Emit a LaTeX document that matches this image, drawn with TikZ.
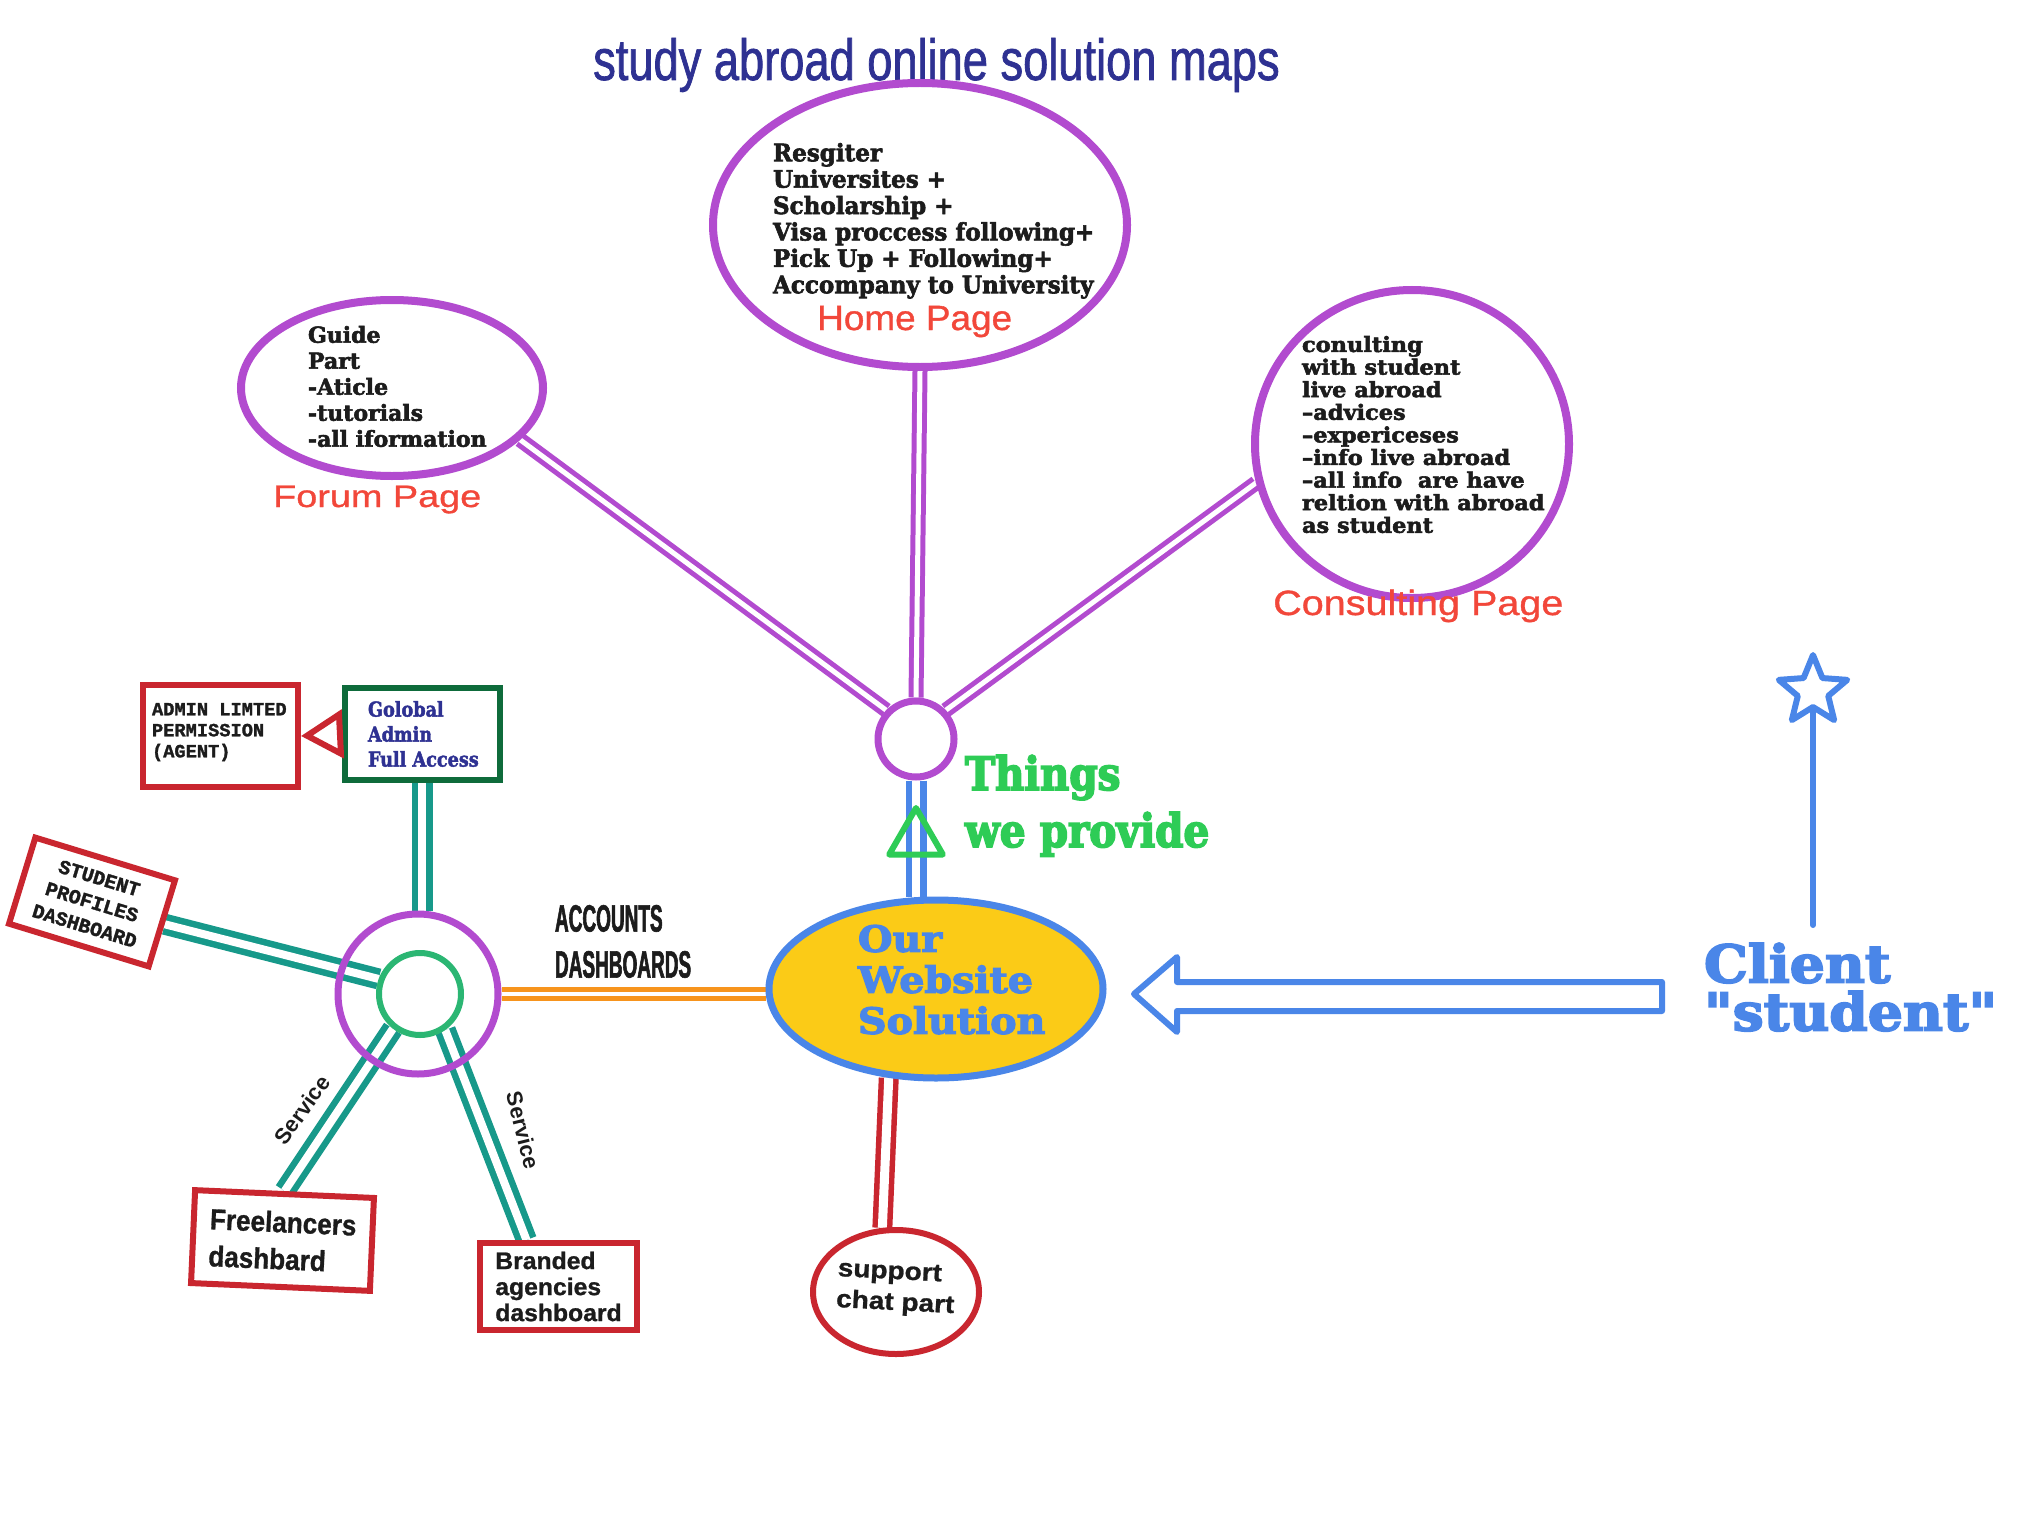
\documentclass[tikz,border=0pt]{standalone}
\usepackage{fontspec}
\usetikzlibrary{shapes.geometric,arrows.meta,calc}
\setmainfont{Liberation Sans}
\newfontfamily\hand{Liberation Sans}[FakeStretch=0.78]
\newfontfamily\slab{DejaVu Serif}
\newfontfamily\mono{Liberation Mono}
\newfontfamily\arial{Liberation Sans}
\definecolor{cpurple}{HTML}{B24BCF}
\definecolor{cred}{HTML}{C9262F}
\definecolor{clabel}{HTML}{F2473A}
\definecolor{cnavy}{HTML}{2E3192}
\definecolor{cdkgreen}{HTML}{0E6B3B}
\definecolor{cteal}{HTML}{17998A}
\definecolor{cgreenc}{HTML}{2BB673}
\definecolor{cgreen}{HTML}{2ECC56}
\definecolor{corange}{HTML}{F7941D}
\definecolor{cblue}{HTML}{4A86E8}
\definecolor{cyellow}{HTML}{FBCB17}
\definecolor{ctext}{HTML}{1C1C1C}
\pgfdeclarelayer{bg}
\pgfsetlayers{bg,main}
\begin{document}
\begin{tikzpicture}[x=1bp,y=-1bp,
  txt/.style={inner sep=0pt, outer sep=0pt, anchor=north west, align=left},
  ppipe/.style={draw=cpurple, line width=5bp, double=white, double distance=5bp},
  bpipe/.style={draw=cblue, line width=6.5bp, double=white, double distance=8bp},
  tpipe/.style={draw=cteal, line width=6.5bp, double=white, double distance=8bp},
  opipe/.style={draw=corange, line width=5bp, double=white, double distance=4bp},
  rpipe/.style={draw=cred, line width=5.5bp, double=white, double distance=9bp},
  redbox/.style={draw=cred, line width=6bp, fill=white, inner sep=0pt, align=left, text=ctext},
]
\begin{pgfonlayer}{bg}
\fill[white] (0,0) rectangle (2035,1536);
\end{pgfonlayer}
\path[use as bounding box] (0,0) rectangle (2035,1536);

% title
\node[inner sep=0pt, anchor=base west, text=cnavy, font={\hand\addfontfeatures{FakeBold=1.2}\fontsize{58bp}{60bp}\selectfont}] (title) at (593,80) {study abroad online solution maps};

% top ellipses
\node[ellipse, draw=cpurple, line width=8bp, fill=white, minimum width=414bp, minimum height=284bp, inner sep=0pt] (home) at (920,225) {};
\node[ellipse, draw=cpurple, line width=8bp, fill=white, minimum width=302bp, minimum height=176bp, inner sep=0pt] (forum) at (392,388) {};
\node[ellipse, draw=cpurple, line width=8bp, fill=white, minimum width=314bp, minimum height=308bp, inner sep=0pt] (cons) at (1412,444) {};

\node[txt, text=ctext, font={\slab\bfseries\addfontfeatures{FakeStretch=0.96,FakeBold=2.5}\fontsize{24bp}{26.4bp}\selectfont}] (hometxt) at (773,143)
  {Resgiter\\Universites +\\Scholarship +\\Visa proccess following+\\Pick Up + Following+\\Accompany to University};
\node[inner sep=0pt, anchor=base west, text=clabel, font={\arial\addfontfeatures{FakeStretch=1.055,FakeBold=1}\fontsize{35bp}{40bp}\selectfont}] (homelbl) at (817,330) {Home Page};

\node[txt, text=ctext, font={\slab\bfseries\addfontfeatures{FakeBold=2.5}\fontsize{22bp}{26bp}\selectfont}] (forumtxt) at (308,326)
  {Guide\\Part\\-Aticle\\-tutorials\\-all iformation};
\node[inner sep=0pt, anchor=base west, text=clabel, font={\arial\addfontfeatures{FakeStretch=1.22,FakeBold=1}\fontsize{31bp}{36bp}\selectfont}] (forumlbl) at (273,507) {Forum Page};

\node[txt, text=ctext, font={\slab\bfseries\addfontfeatures{FakeStretch=1.07,FakeBold=2.5}\fontsize{21bp}{22.6bp}\selectfont}] (constxt) at (1302,336)
  {conulting\\with student\\live abroad\\–advices\\–expericeses\\–info live abroad\\–all info\ \ are have\\reltion with abroad\\as student};
\node[inner sep=0pt, anchor=base west, text=clabel, font={\arial\addfontfeatures{FakeStretch=1.13,FakeBold=1}\fontsize{35bp}{40bp}\selectfont}] (conslbl) at (1273,615) {Consulting Page};

% hub and website
\node[circle, draw=cpurple, line width=7bp, fill=white, minimum size=76bp, inner sep=0pt] (hub) at (916,739) {};
\node[ellipse, draw=cblue, line width=7bp, fill=cyellow, minimum width=334bp, minimum height=178bp, inner sep=0pt] (web) at (936,989) {};
\node[txt, text=cblue, font={\slab\bfseries\addfontfeatures{FakeStretch=1.1,FakeBold=3.5}\fontsize{36bp}{41bp}\selectfont}] (webtxt) at (858,925)
  {Our\\Website\\Solution};

\node[regular polygon, regular polygon sides=3, draw=cgreen, line width=6bp, line join=round, minimum size=62bp, inner sep=0pt] (tri) at (916,839) {};
\node[txt, text=cgreen, font={\slab\bfseries\addfontfeatures{FakeStretch=0.88,FakeBold=3.5}\fontsize{46bp}{57bp}\selectfont}] (things) at (965,755)
  {Things\\we provide};

% client
\node[txt, text=cblue, font={\slab\bfseries\addfontfeatures{FakeStretch=1.06,FakeBold=3.5}\fontsize{52bp}{48bp}\selectfont}] (client) at (1704,943)
  {Client\\"student"};
\node[star, star points=5, star point ratio=2.25, draw=cblue, line width=6bp, line join=round, minimum size=72bp, inner sep=0pt] (star) at (1813,691) {};
\coordinate (cltop) at (1813,925);
\draw[cblue, line width=6bp, line cap=round] (cltop) -- (star.south);

\coordinate (atip) at (1134,994);
\coordinate (aend) at (1662,996);
\draw[cblue, line width=6bp, line join=round]
  (atip) -- (1177,957) -- (1177,982) -- (aend |- 0,982) -- (aend |- 0,1011) -- (1177,1011) -- (1177,1032) -- cycle;

% left hub
\node[circle, draw=cpurple, line width=7bp, minimum size=160bp, inner sep=0pt] (lhub) at (418,994) {};
\node[circle, draw=cgreenc, line width=6bp, fill=white, minimum size=82bp, inner sep=0pt] (inner) at (420,994) {};

\node[txt, text=ctext, font={\arial\bfseries\addfontfeatures{FakeStretch=0.5,FakeBold=1.5}\fontsize{38bp}{46bp}\selectfont}] (acc) at (555,905)
  {ACCOUNTS\\DASHBOARDS};

\node[draw=cdkgreen, line width=6bp, fill=white, minimum width=155bp, minimum height=92bp, inner sep=0pt] (gadmin) at (422,734) {};
\node[txt, text=cnavy, font={\slab\bfseries\addfontfeatures{FakeStretch=0.86,FakeBold=2}\fontsize{20.5bp}{25bp}\selectfont}] (gadmintxt) at (368,701)
  {Golobal\\Admin\\Full Access};

\node[redbox, minimum width=155bp, minimum height=102bp] (admin) at (220.5,736) {};
\node[txt, text=ctext, font={\mono\bfseries\addfontfeatures{FakeBold=1.5}\fontsize{18.7bp}{21bp}\selectfont}] (admintxt) at (152,703)
  {ADMIN LIMTED\\PERMISSION\\(AGENT)};

\node[redbox, align=center, rotate=-17, minimum width=146bp, minimum height=90bp, font={\mono\bfseries\addfontfeatures{FakeBold=1.5}\fontsize{20bp}{25bp}\selectfont}] (stud) at (92,902)
  {STUDENT\\PROFILES\\DASHBOARD};

\node[redbox, rotate=-2.5, minimum width=179bp, minimum height=93bp, font={\arial\bfseries\addfontfeatures{FakeStretch=0.9,FakeBold=1}\fontsize{29bp}{37bp}\selectfont}] (free) at (282.5,1240.5)
  {Freelancers\\dashbard};

\node[redbox, minimum width=157bp, minimum height=87bp, font={\arial\bfseries\addfontfeatures{FakeStretch=1.03,FakeBold=1}\fontsize{24bp}{26bp}\selectfont}] (brand) at (558.5,1286.5)
  {Branded\\agencies\\dashboard};

\node[ellipse, draw=cred, line width=6bp, fill=white, minimum width=166bp, minimum height=124bp, inner sep=0pt] (support) at (896,1292) {};
\node[inner sep=0pt, align=left, rotate=-3, text=ctext, font={\arial\bfseries\addfontfeatures{FakeStretch=1.12,FakeBold=1}\fontsize{25bp}{31bp}\selectfont}] (suptxt) at (896,1289)
  {support\\chat part};

\node[inner sep=0pt, rotate=54, text=ctext, font={\arial\bfseries\fontsize{22bp}{24bp}\selectfont}] (svc1) at (302,1110) {Service};
\node[inner sep=0pt, rotate=-76, text=ctext, font={\arial\bfseries\fontsize{22bp}{24bp}\selectfont}] (svc2) at (523,1130) {Service};

% arrow between admin boxes
\draw[cred, line width=6bp, line join=round, -{Triangle[open, length=42bp, width=48bp]}] (gadmin.west) -- (admin.east);

% pipes
\begin{pgfonlayer}{bg}
\draw[ppipe] (hub.90) -- (home.270);
\draw[ppipe] (hub.136) -- (forum.-22);
\draw[ppipe] (hub.44) -- (cons.194);
\draw[bpipe] (hub.south) -- (hub.south |- web.north);
\draw[opipe] (lhub.east) -- (lhub.east -| web.west);
\draw[rpipe] (web.242) -- (support.102);
\draw[tpipe] (gadmin.south) -- (gadmin.south |- lhub.north);
\draw[tpipe] (inner.160) -- (stud.east);
\draw[tpipe] (inner.232) -- (free.north);
\draw[tpipe] (inner.305) -- ([xshift=-32bp]brand.north);
\end{pgfonlayer}
\end{tikzpicture}
\end{document}
